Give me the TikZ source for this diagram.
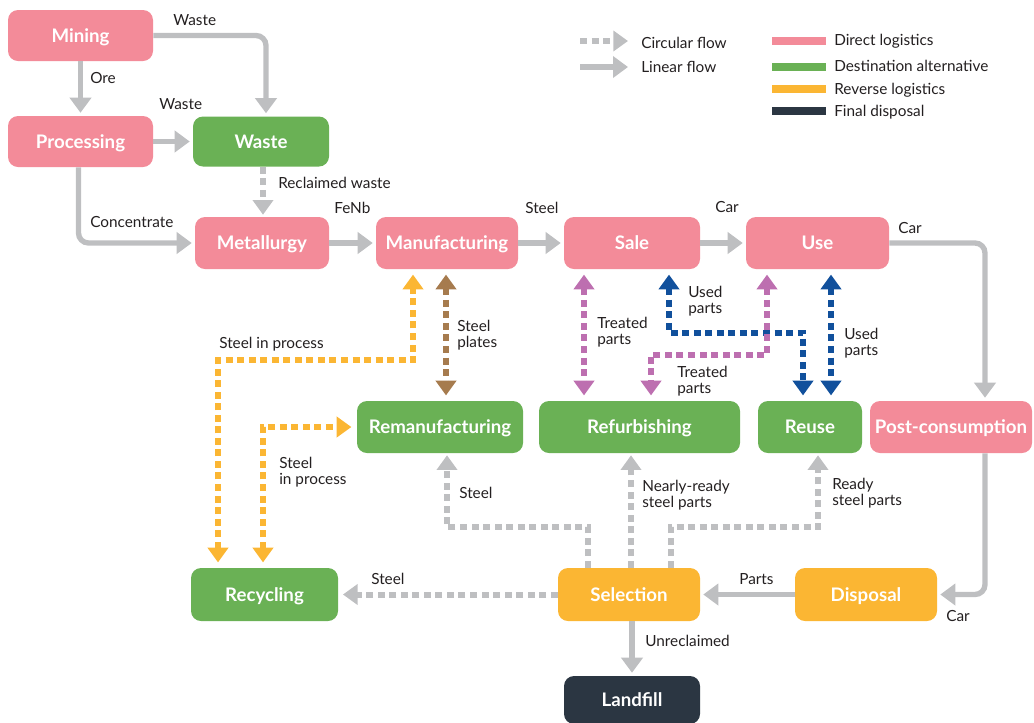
\documentclass[tikz,border=0pt]{standalone}
\usepackage{fontspec}
\setmainfont{Lato}
\usetikzlibrary{arrows.meta,calc}
\definecolor{pinkc}{HTML}{F38B99}
\definecolor{greenc}{HTML}{6AB155}
\definecolor{orangec}{HTML}{FBB633}
\definecolor{darkc}{HTML}{2B3642}
\definecolor{grayc}{HTML}{BEBFC1}
\definecolor{bluec}{HTML}{11509C}
\definecolor{purpc}{HTML}{BD6FB0}
\definecolor{brownc}{HTML}{A67B4E}
\definecolor{txtc}{HTML}{231F20}
\begin{document}
\begin{tikzpicture}[x=0.75pt,y=-0.75pt,
  proc/.style={fill=#1, rounded corners=7.5pt, text=white, inner sep=0pt,
    text height=10pt, text depth=0pt,
    font=\fontsize{14}{16}\selectfont\bfseries},
  sz/.style 2 args={minimum width=#1*0.75pt, minimum height=#2*0.75pt},
  lab/.style={font=\fontsize{11.5}{12}\selectfont, text=txtc, inner sep=0pt, anchor=west, align=left},
  lin/.style={draw=grayc, line width=4pt, rounded corners=7.5pt,
    -{Triangle[length=11.25pt,width=15.75pt]}, shorten >=2.25pt},
  circ/.style={draw=#1, line width=4.5pt, dash pattern=on 5.25pt off 3.4pt,
    -{Triangle[length=11pt,width=15pt]}, shorten >=1.5pt},
  bi/.style={draw=#1, line width=4.5pt, dash pattern=on 5.25pt off 3.4pt,
    {Triangle[length=11pt,width=15pt]}-{Triangle[length=11pt,width=15pt]},
    shorten >=4pt, shorten <=4pt},
  bar/.style={fill=#1, inner sep=0pt, minimum width=40.5pt, minimum height=6pt}
]
\useasboundingbox (0,0) rectangle (1034,722);

% nodes
\node[proc=pinkc, sz={145}{51}] (mining) at (80.5,35.5) {Mining};
\node[proc=pinkc, sz={145}{51}] (processing) at (80.5,141.5) {Processing};
\node[proc=greenc, sz={136}{50}] (wasteN) at (261,141.5) {Waste};
\node[proc=pinkc, sz={134}{52}] (metallurgy) at (262,243) {Metallurgy};
\node[proc=pinkc, sz={142}{52}] (manufacturing) at (447,243) {Manufacturing};
\node[proc=pinkc, sz={136}{52}] (sale) at (632,243) {Sale};
\node[proc=pinkc, sz={143}{52}] (use) at (817.5,243) {Use};
\node[proc=pinkc, sz={162}{52}] (post) at (951,427) {Post-consumption};
\node[proc=greenc, sz={166}{52}] (reman) at (440,427) {Remanufacturing};
\node[proc=greenc, sz={201}{52}] (refurb) at (639.5,427) {Refurbishing};
\node[proc=greenc, sz={104}{52}] (reuse) at (810,427) {Reuse};
\node[proc=greenc, sz={147}{53}] (recycling) at (264.5,594.5) {Recycling};
\node[proc=orangec, sz={142}{53}] (selection) at (629,594.5) {Selection};
\node[proc=orangec, sz={142}{53}] (disposal) at (866,594.5) {Disposal};
\node[proc=darkc, sz={136}{48}] (landfill) at (632,700) {Landfill};

% linear flows
\draw[lin] (mining) -- (processing);
\draw[lin] (mining.east) -| ($(wasteN.north)+(5,0)$);
\draw[lin] (processing) -- (wasteN);
\draw[lin] ($(processing.south)+(-2,0)$) |- (metallurgy.west);
\draw[lin] (metallurgy) -- (manufacturing);
\draw[lin] (manufacturing) -- (sale);
\draw[lin] (sale) -- (use);
\draw[lin] (use.east) -| ($(post.north)+(34,0)$);
\draw[lin] ($(post.south)+(34,0)$) |- (disposal.east);
\draw[lin] (disposal) -- (selection);
\draw[lin] (landfill.north |- selection.south) -- (landfill.north);

% circular gray flows
\draw[circ=grayc] ($(wasteN.south)+(2,0)$) -- ($(metallurgy.north)+(1,0)$);
\draw[circ=grayc, shorten >=3.5pt] (selection.west) -- (recycling.east);
\draw[circ=grayc] ($(selection.north)+(-41,0)$) |- ($(reman.south)+(7,74)$) -- ($(reman.south)+(7,0)$);
\draw[circ=grayc] ($(selection.north)+(2,0)$) -- ($(refurb.south)+(-8.5,0)$);
\draw[circ=grayc] ($(selection.north)+(42,0)$) |- ($(reuse.south)+(8,74)$) -- ($(reuse.south)+(8,0)$);

% coloured two-way flows
\draw[bi=orangec] ($(recycling.north)+(-46.5,0)$) |- ($(manufacturing.south)+(-34,91)$) -- ($(manufacturing.south)+(-34,0)$);
\draw[bi=orangec] ($(recycling.north)+(-1.5,0)$) |- (reman.west);
\draw[bi=brownc] ($(manufacturing.south)+(-1,0)$) -- ($(reman.north)+(6,0)$);
\draw[bi=bluec] ($(sale.south)+(37,0)$) |- ($(reuse.north)+(-7,-68)$) -- ($(reuse.north)+(-7,0)$);
\draw[bi=bluec] ($(use.south)+(13.5,0)$) -- ($(reuse.north)+(21,0)$);
\draw[bi=purpc] ($(sale.south)+(-48,0)$) -- ($(refurb.north)+(-55.5,0)$);
\draw[bi=purpc] ($(use.south)+(-50.5,0)$) |- ($(refurb.north)+(11.5,-46)$) -- ($(refurb.north)+(11.5,0)$);

% labels
\node[lab] (l1) at (173,20) {Waste};
\node[lab] (l2) at (90,78) {Ore};
\node[lab] (l3) at (159,104) {Waste};
\node[lab] (l4) at (278,183) {Reclaimed waste};
\node[lab] (l5) at (90,222) {Concentrate};
\node[lab] (l6) at (334,208) {FeNb};
\node[lab] (l7) at (525,208) {Steel};
\node[lab] (l8) at (715,207) {Car};
\node[lab] (l9) at (898,228) {Car};
\node[lab] (l10) at (457,335) {Steel\\plates};
\node[lab] (l11) at (597,332) {Treated\\parts};
\node[lab] (l12) at (688,301) {Used\\parts};
\node[lab] (l13) at (677,381) {Treated\\parts};
\node[lab] (l14) at (844,343) {Used\\parts};
\node[lab] (l15) at (219,344) {Steel in process};
\node[lab] (l16) at (279,472) {Steel\\in process};
\node[lab] (l17) at (459,493) {Steel};
\node[lab] (l18) at (371,579) {Steel};
\node[lab] (l19) at (642,495) {Nearly-ready\\steel parts};
\node[lab] (l20) at (832,493) {Ready\\steel parts};
\node[lab] (l21) at (739,579) {Parts};
\node[lab] (l22) at (645,641) {Unreclaimed};
\node[lab] (l23) at (946,616) {Car};

% legend
\coordinate (lg1a) at (580,41);
\coordinate (lg1b) at (628,41);
\draw[circ=grayc, shorten >=0pt] (lg1a) -- (lg1b);
\node[lab] (lt1) at (641,43) {Circular flow};
\coordinate (lg2a) at (580,67);
\coordinate (lg2b) at (628,67);
\draw[lin, shorten >=0pt] (lg2a) -- (lg2b);
\node[lab] (lt2) at (641,67) {Linear flow};
\node[bar=pinkc] (b1) at (799,41) {};
\node[bar=greenc] (b2) at (799,67) {};
\node[bar=orangec] (b3) at (799,89) {};
\node[bar=darkc] (b4) at (799,111) {};
\node[lab] (lt3) at (834,41) {Direct logistics};
\node[lab] (lt4) at (834,66) {Destination alternative};
\node[lab] (lt5) at (834,90) {Reverse logistics};
\node[lab] (lt6) at (834,112) {Final disposal};
\end{tikzpicture}
\end{document}
